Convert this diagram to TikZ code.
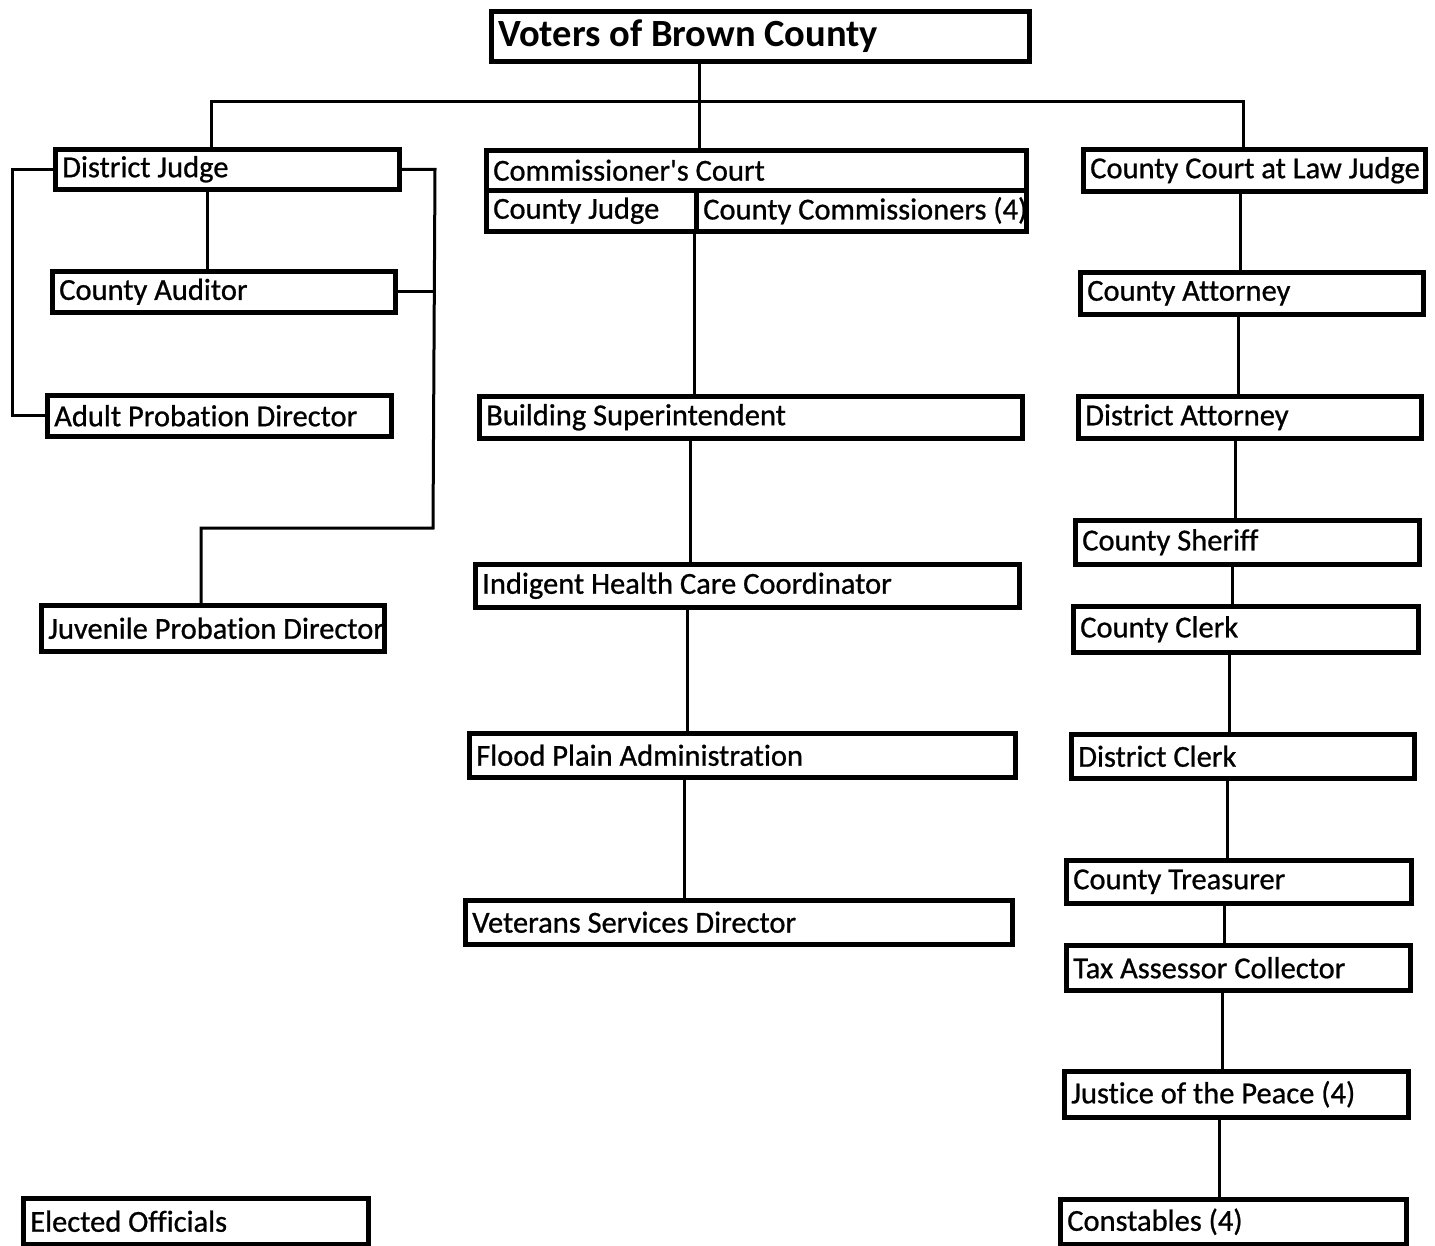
\documentclass[tikz,border=0pt]{standalone}
\usepackage{fontspec}
\setmainfont{Carlito}[Ligatures={NoCommon},FakeBold=0.8]
\newfontfamily\titlefont{Carlito}[Ligatures={NoCommon}]
\newcommand\straightquote{\XeTeXglyph\XeTeXcharglyph"27\relax}
\begin{document}
\begin{tikzpicture}[x=1pt,y=-1pt,
  box/.style={draw, line width=4.5pt, anchor=north west, inner xsep=7pt, inner ysep=0pt,
    font=\fontsize{30.5}{33}\selectfont},
  conn/.style={line width=3pt}]
\useasboundingbox (0,0) rectangle (1435,1245);
\newcommand\obox[6]{%
  \pgfmathsetmacro\bw{#4-#2}\pgfmathsetmacro\bh{#5-#3}\pgfmathsetmacro\tw{#4-#2-14}%
  \node[box, minimum width=\bw pt, minimum height=\bh pt] (#1) at (#2,#3) {\makebox[\tw pt][l]{#6}};}
% top
\obox{voters}{489}{9}{1027}{59}{\titlefont\fontsize{38.5}{40}\selectfont\bfseries Voters of Brown County}
% left column
\obox{dj}{53}{147}{397}{187}{District Judge}
\obox{aud}{50}{269}{393}{310}{County Auditor}
\obox{apd}{45}{393}{389}{434}{Adult Probation Director}
\obox{jpd}{39}{603}{382}{649}{Juvenile Probation Director}
\obox{eo}{21}{1196}{366}{1242}{Elected Officials}
% center column
\obox{cc}{484}{148}{1024}{188}{Commissioner\straightquote s Court}
\obox{cj}{484}{188}{694}{229}{County Judge}
\obox{ccom}{694}{188}{1024}{229}{County Commissioners (4)}
\obox{bs}{477}{394}{1020}{436}{Building Superintendent}
\obox{ihc}{473}{562}{1017}{605}{Indigent Health Care Coordinator}
\obox{fpa}{467}{731}{1013}{775}{Flood Plain Administration}
\obox{vsd}{463}{898}{1010}{942}{Veterans Services Director}
% right column
\obox{ccl}{1081}{147}{1423}{189}{County Court at Law Judge}
\obox{catt}{1078}{270}{1421}{312}{County Attorney}
\obox{datt}{1076}{394}{1419}{436}{District Attorney}
\obox{sher}{1073}{518}{1417}{562}{County Sheriff}
\obox{cclk}{1071}{604}{1416}{650}{County Clerk}
\obox{dclk}{1069}{732}{1412}{776}{District Clerk}
\obox{treas}{1064}{858}{1409}{901}{County Treasurer}
\obox{tax}{1064}{943}{1408}{988}{Tax Assessor Collector}
\obox{jp}{1062}{1069}{1406}{1115}{Justice of the Peace (4)}
\obox{const}{1058}{1197}{1404}{1242}{Constables (4)}
% connectors
\draw[conn] (699,0 |- voters.south) -- (699,0 |- cc.north);
\draw[conn] (211,0 |- dj.north) -- (211,101) -- (1243,101) -- (1243,0 |- ccl.north);
\draw[conn] (207,0 |- dj.south) -- (207,0 |- aud.north);
\draw[conn] (dj.west) -- (12,0 |- dj.west) -- (12,0 |- apd.west) -- (apd.west);
\draw[conn] (dj.east) -- (435,0 |- dj.east) -- (433,528) -- (201,528) -- (201,0 |- jpd.north);
\draw[conn] (aud.east) -- (434,0 |- aud.east);
\draw[conn] (694,0 |- cj.south) -- (694,0 |- bs.north);
\draw[conn] (690,0 |- bs.south) -- (690,0 |- ihc.north);
\draw[conn] (687,0 |- ihc.south) -- (687,0 |- fpa.north);
\draw[conn] (684,0 |- fpa.south) -- (684,0 |- vsd.north);
\draw[conn] (1240,0 |- ccl.south) -- (1240,0 |- catt.north);
\draw[conn] (1238,0 |- catt.south) -- (1238,0 |- datt.north);
\draw[conn] (1235,0 |- datt.south) -- (1235,0 |- sher.north);
\draw[conn] (1232,0 |- sher.south) -- (1232,0 |- cclk.north);
\draw[conn] (1229,0 |- cclk.south) -- (1229,0 |- dclk.north);
\draw[conn] (1227,0 |- dclk.south) -- (1227,0 |- treas.north);
\draw[conn] (1224,0 |- treas.south) -- (1224,0 |- tax.north);
\draw[conn] (1222,0 |- tax.south) -- (1222,0 |- jp.north);
\draw[conn] (1219,0 |- jp.south) -- (1219,0 |- const.north);
\end{tikzpicture}
\end{document}
